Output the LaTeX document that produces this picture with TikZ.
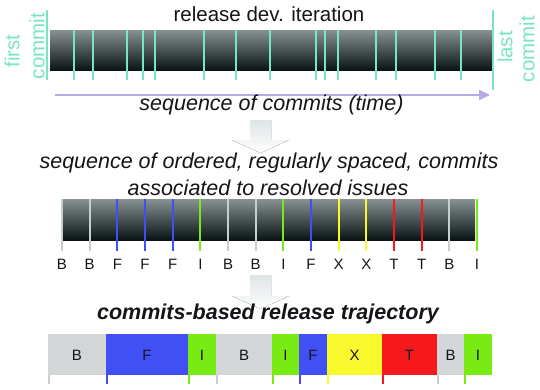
\documentclass[tikz,border=0pt]{standalone}
\usepackage{fontspec}
\setmainfont{Liberation Sans}
\usetikzlibrary{arrows.meta}
\definecolor{mint}{RGB}{120,230,190}
\definecolor{lav}{RGB}{185,170,230}
\definecolor{cB}{RGB}{210,214,214}
\definecolor{cBt}{RGB}{200,206,206}
\definecolor{cF}{RGB}{65,80,245}
\definecolor{cI}{RGB}{120,235,20}
\definecolor{cX}{RGB}{248,248,45}
\definecolor{cT}{RGB}{245,25,30}
\definecolor{barTop}{RGB}{135,145,145}
\definecolor{barBot}{RGB}{10,20,20}
\definecolor{arrowgray}{RGB}{222,228,228}
\definecolor{txt}{RGB}{20,20,25}
\tikzset{
  bar/.style={draw=none, rectangle, inner sep=0pt, top color=barTop, bottom color=barBot},
  bigtext/.style={font=\fontsize{21.5}{26}\selectfont\itshape, text=txt, anchor=base, inner sep=0pt},
  letter/.style={font=\fontsize{15}{18}\selectfont, text=txt, anchor=base, inner sep=0pt},
  segletter/.style={font=\fontsize{15}{18}\selectfont, text=txt, inner sep=0pt},
  sidetext/.style={font=\fontsize{20.5}{24}\selectfont, text=mint, rotate=90, inner sep=0pt},
  tick/.style={line width=2pt},
  blockarrow/.style={top color=arrowgray, bottom color=white, draw=none},
}
\begin{document}
\begin{tikzpicture}[x=1pt,y=-1pt]
\useasboundingbox (0,0) rectangle (540,389);

% ---------- top: release dev. iteration ----------
\node[font=\fontsize{20.5}{24}\selectfont, text=txt, anchor=base, inner sep=0pt] (title) at (269,21) {release dev. iteration};
\node[bar, minimum width=443pt, minimum height=40pt] (topbar) at (271.5,50) {};
\foreach \x in {74,93,127,143,155,204,236,270,316,325,338,376,396,435,461}{
  \draw[tick, mint] (\x,30) -- (\x,80);
}
\coordinate (fc1) at (47,10); \coordinate (fc2) at (47,80);
\coordinate (lc1) at (493,10); \coordinate (lc2) at (493,90);
\draw[tick, mint] (fc1) -- (fc2);
\draw[tick, mint] (lc1) -- (lc2);
\node[sidetext] (first) at (12,51) {first};
\node[sidetext] (fcommit) at (37,46) {commit};
\node[sidetext] (last) at (505,47) {last};
\node[sidetext] (lcommit) at (527,49) {commit};

\coordinate (ts) at (55,95); \coordinate (te) at (490,95);
\draw[lav, line width=2.5pt, -{Triangle[length=11pt,width=10pt]}] (ts) -- (te);
\node[bigtext] (seqtime) at (271.5,110) {sequence of commits (time)};

% block arrow 1
\fill[blockarrow] (250,120) -- (271,120) -- (271,140) -- (289,140) -- (260.5,153) -- (232,140) -- (250,140) -- cycle;

% ---------- middle ----------
\node[bigtext] (mid1) at (269,168) {sequence of ordered, regularly spaced, commits};
\node[bigtext] (mid2) at (268,195) {associated to resolved issues};
\node[bar, minimum width=414pt, minimum height=41pt] (midbar) at (268,219.5) {};
\foreach \l/\c [count=\i from 0] in {B/cBt,B/cBt,F/cF,F/cF,F/cF,I/cI,B/cBt,B/cBt,I/cI,F/cF,X/cX,X/cX,T/cT,T/cT,B/cBt,I/cI}{
  \pgfmathsetmacro{\xx}{62+27.67*\i}
  \draw[tick, \c] (\xx,199) -- (\xx,251);
  \node[letter] (m\i) at (\xx,269) {\l};
}

% block arrow 2
\fill[blockarrow] (250,275) -- (271,275) -- (271,296) -- (289,296) -- (260.5,309) -- (232,296) -- (250,296) -- cycle;

% ---------- bottom ----------
\node[font=\fontsize{21.5}{26}\selectfont\bfseries\itshape, text=txt, anchor=base, inner sep=0pt] (traj) at (268,319) {commits-based release trajectory};
\foreach \a/\b/\l/\c/\tc [count=\j] in {48/106/B/cB/cBt,106/188/F/cF/cF,188/216/I/cI/cI,216/272/B/cB/cBt,272/299/I/cI/cI,299/327/F/cF/cF,327/382/X/cX/cX,382/437/T/cT/cT,437/464/B/cB/cBt,464/492/I/cI/cI}{
  \fill[\c] (\a,334) rectangle (\b,375);
  \node[segletter] (s\j) at ({(\a+\b)/2},355) {\l};
  \draw[tick, \tc] (\a+1,375) -- (\a+1,384);
}
\end{tikzpicture}
\end{document}
